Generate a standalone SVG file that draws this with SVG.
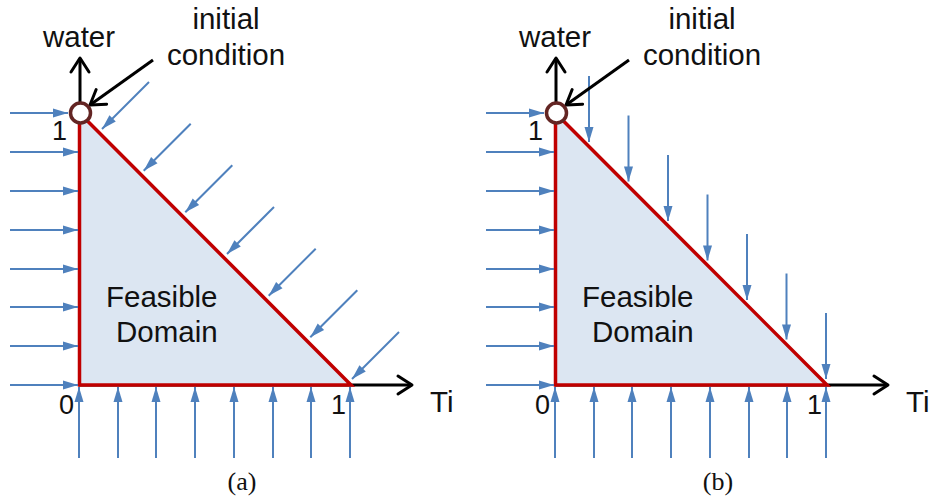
<svg xmlns="http://www.w3.org/2000/svg" width="933" height="502" viewBox="0 0 933 502">
<style>
.lbl{font-family:"Liberation Sans",Arial,sans-serif;font-size:29.5px;fill:#111}
.num{font-family:"Liberation Sans",Arial,sans-serif;font-size:27px;fill:#111}
.cap{font-family:"Liberation Serif","Times New Roman",serif;font-size:26px;fill:#111}
.flow{stroke:#4f81bd;stroke-width:2;fill:none;marker-end:url(#bh)}
.axis{stroke:#000;stroke-width:3;fill:none;marker-end:url(#ch)}
.dom{fill:#dce6f2;stroke:#c00000;stroke-width:3.5;stroke-linejoin:miter}
.ic{fill:#fff;stroke:#632523;stroke-width:3.5}
</style>
<defs>
<marker id="bh" markerUnits="userSpaceOnUse" markerWidth="16" markerHeight="10" refX="15" refY="4.5" orient="auto" overflow="visible">
<path d="M0,0 L15,4.5 L0,9 z" fill="#4f81bd"/>
</marker>
<marker id="ch" markerUnits="userSpaceOnUse" markerWidth="16" markerHeight="20" refX="14" refY="9" orient="auto" overflow="visible">
<path d="M0,0 L14,9 L0,18" fill="none" stroke="#000" stroke-width="3" stroke-linecap="round" stroke-linejoin="round"/>
</marker>
</defs>
<rect width="933" height="502" fill="#fff"/>

<g id="panel-a">
<g id="axes-a">
<line class="axis" x1="80" y1="102" x2="80" y2="58"/>
<line class="axis" x1="79" y1="385" x2="412" y2="385"/>
</g>
<g id="domain-a">
<polygon class="dom" points="79.5,113 79.5,385 351,385"/>
<text class="lbl" x="106" y="307">Feasible</text>
<text class="lbl" x="116" y="342">Domain</text>
</g>
<g id="connectors-a">
<line class="flow" x1="10" y1="113" x2="68" y2="113"/>
<line class="flow" x1="10" y1="152" x2="78" y2="152"/>
<line class="flow" x1="10" y1="191" x2="78" y2="191"/>
<line class="flow" x1="10" y1="230" x2="78" y2="230"/>
<line class="flow" x1="10" y1="269" x2="78" y2="269"/>
<line class="flow" x1="10" y1="307" x2="78" y2="307"/>
<line class="flow" x1="10" y1="346" x2="78" y2="346"/>
<line class="flow" x1="10" y1="385" x2="78" y2="385"/>
<line class="flow" x1="79" y1="458" x2="79" y2="387"/>
<line class="flow" x1="118" y1="458" x2="118" y2="387"/>
<line class="flow" x1="156" y1="458" x2="156" y2="387"/>
<line class="flow" x1="195" y1="458" x2="195" y2="387"/>
<line class="flow" x1="234" y1="458" x2="234" y2="387"/>
<line class="flow" x1="273" y1="458" x2="273" y2="387"/>
<line class="flow" x1="311" y1="458" x2="311" y2="387"/>
<line class="flow" x1="350" y1="458" x2="350" y2="387"/>
<line class="flow" x1="149" y1="82" x2="102" y2="129"/>
<line class="flow" x1="190.7" y1="123.7" x2="143.7" y2="170.7"/>
<line class="flow" x1="232.3" y1="165.3" x2="185.3" y2="212.3"/>
<line class="flow" x1="274" y1="207" x2="227" y2="254"/>
<line class="flow" x1="315.7" y1="248.7" x2="268.7" y2="295.7"/>
<line class="flow" x1="357.3" y1="290.3" x2="310.3" y2="337.3"/>
<line class="flow" x1="399" y1="332" x2="352" y2="379"/>
<line class="axis" x1="153" y1="60" x2="90" y2="105"/>
</g>
<g id="init-a">
<circle class="ic" cx="80.5" cy="113" r="10"/>
</g>
<g id="labels-a">
<text class="lbl" x="79" y="47" text-anchor="middle">water</text>
<text class="lbl" x="226" y="29" text-anchor="middle">initial</text>
<text class="lbl" x="226" y="65" text-anchor="middle">condition</text>
<text class="num" x="67" y="140" text-anchor="end">1</text>
<text class="num" x="59" y="414">0</text>
<text class="num" x="331" y="414">1</text>
<text class="lbl" x="430" y="412">Ti</text>
<text class="cap" x="242" y="490" text-anchor="middle">(a)</text>
</g>
</g>

<g id="panel-b">
<g id="axes-b">
<line class="axis" x1="556" y1="102" x2="556" y2="58"/>
<line class="axis" x1="555" y1="385" x2="888" y2="385"/>
</g>
<g id="domain-b">
<polygon class="dom" points="555.5,113 555.5,385 827,385"/>
<text class="lbl" x="582" y="307">Feasible</text>
<text class="lbl" x="592" y="342">Domain</text>
</g>
<g id="connectors-b">
<line class="flow" x1="486" y1="113" x2="544" y2="113"/>
<line class="flow" x1="486" y1="152" x2="554" y2="152"/>
<line class="flow" x1="486" y1="191" x2="554" y2="191"/>
<line class="flow" x1="486" y1="230" x2="554" y2="230"/>
<line class="flow" x1="486" y1="269" x2="554" y2="269"/>
<line class="flow" x1="486" y1="307" x2="554" y2="307"/>
<line class="flow" x1="486" y1="346" x2="554" y2="346"/>
<line class="flow" x1="486" y1="385" x2="554" y2="385"/>
<line class="flow" x1="555" y1="458" x2="555" y2="387"/>
<line class="flow" x1="594" y1="458" x2="594" y2="387"/>
<line class="flow" x1="632" y1="458" x2="632" y2="387"/>
<line class="flow" x1="671" y1="458" x2="671" y2="387"/>
<line class="flow" x1="710" y1="458" x2="710" y2="387"/>
<line class="flow" x1="749" y1="458" x2="749" y2="387"/>
<line class="flow" x1="787" y1="458" x2="787" y2="387"/>
<line class="flow" x1="826" y1="458" x2="826" y2="387"/>
<line class="flow" x1="589" y1="76" x2="589" y2="142"/>
<line class="flow" x1="628.5" y1="115.5" x2="628.5" y2="181.5"/>
<line class="flow" x1="668" y1="155" x2="668" y2="221"/>
<line class="flow" x1="707.5" y1="194.5" x2="707.5" y2="260.5"/>
<line class="flow" x1="747" y1="234" x2="747" y2="300"/>
<line class="flow" x1="786.5" y1="273.5" x2="786.5" y2="339.5"/>
<line class="flow" x1="826" y1="313" x2="826" y2="379"/>
<line class="axis" x1="629" y1="60" x2="566" y2="105"/>
</g>
<g id="init-b">
<circle class="ic" cx="556.5" cy="113" r="10"/>
</g>
<g id="labels-b">
<text class="lbl" x="555" y="47" text-anchor="middle">water</text>
<text class="lbl" x="702" y="29" text-anchor="middle">initial</text>
<text class="lbl" x="702" y="65" text-anchor="middle">condition</text>
<text class="num" x="543" y="140" text-anchor="end">1</text>
<text class="num" x="535" y="414">0</text>
<text class="num" x="807" y="414">1</text>
<text class="lbl" x="906" y="412">Ti</text>
<text class="cap" x="718" y="490" text-anchor="middle">(b)</text>
</g>
</g>
</svg>
